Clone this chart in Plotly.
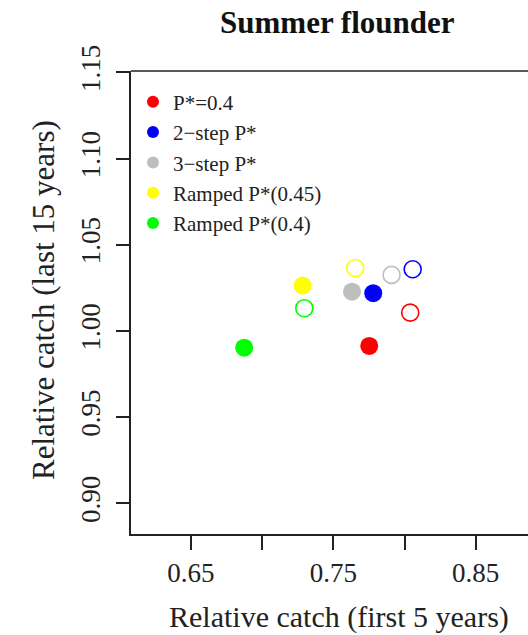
import plotly.graph_objects as go

# Data
scenarios = ["P*=0.4", "2\u2212step P*", "3\u2212step P*", "Ramped P*(0.45)", "Ramped P*(0.4)"]
colors = ["#ff0000", "#0000ff", "#bebebe", "#ffff00", "#00ff00"]
# filled circles
first5_filled = [0.7752, 0.7780, 0.7631, 0.7284, 0.6874]
last15_filled = [0.9913, 1.0219, 1.0228, 1.0263, 0.9903]
# open circles
first5_open = [0.8040, 0.8057, 0.7909, 0.7654, 0.7296]
last15_open = [1.0106, 1.0358, 1.0325, 1.0365, 1.0132]

x_ticks = [0.60, 0.65, 0.70, 0.75, 0.80, 0.85]
x_ticklabels = ["", "0.65", "", "0.75", "", "0.85"]
y_ticks = [0.90, 0.95, 1.00, 1.05, 1.10, 1.15]
y_ticklabels = ["0.90", "0.95", "1.00", "1.05", "1.10", "1.15"]

FONT = "Liberation Serif"
INK = "#222222"

fig = go.Figure()
for i, name in enumerate(scenarios):
    fig.add_trace(go.Scatter(
        x=[first5_open[i]], y=[last15_open[i]], mode="markers",
        marker=dict(symbol="circle-open", size=17, color=colors[i], line=dict(width=1.6, color=colors[i])),
        showlegend=False, hoverinfo="skip"))
for i, name in enumerate(scenarios):
    fig.add_trace(go.Scatter(
        x=[first5_filled[i]], y=[last15_filled[i]], mode="markers", name=name,
        marker=dict(symbol="circle", size=18, color=colors[i])))

fig.update_layout(
    width=528, height=635,
    margin=dict(l=131, r=0, t=71, b=101),
    paper_bgcolor="white", plot_bgcolor="white",
    font=dict(family=FONT, color=INK, size=22),
    showlegend=True,
    legend=dict(x=0.005, y=0.977, xanchor="left", yanchor="top",
                bgcolor="rgba(0,0,0,0)", font=dict(size=21, family=FONT, color=INK),
                itemsizing="constant", traceorder="normal", tracegroupgap=0,
                itemwidth=30),
    xaxis=dict(range=[0.6079, 0.8867], tickvals=x_ticks, ticktext=x_ticklabels,
               showgrid=False, zeroline=False, showline=True, linecolor=INK, linewidth=1.5,
               ticks="outside", ticklen=14, tickwidth=1.5, tickcolor=INK,
               tickfont=dict(size=27, family=FONT, color=INK)),
    yaxis=dict(range=[0.8822, 1.1508], tickvals=y_ticks, ticktext=y_ticklabels,
               showgrid=False, zeroline=False, showline=True, linecolor=INK, linewidth=1.5,
               ticks="outside", ticklen=13, tickwidth=1.5, tickcolor=INK, ticklabelstandoff=5,
               tickangle=-90, tickfont=dict(size=27, family=FONT, color=INK)),
    shapes=[dict(type="line", xref="paper", yref="paper", x0=0, x1=1, y0=1, y1=1,
                 line=dict(color=INK, width=1.5))],
    annotations=[
        dict(text="<b>Summer flounder</b>", xref="paper", yref="paper", x=(337 - 131) / 397, y=1,
             yshift=49, xanchor="center", yanchor="middle", showarrow=False,
             font=dict(size=31, family=FONT, color="#111111")),
        dict(text="Relative catch (first 5 years)", xref="paper", yref="paper", x=(339 - 131) / 397, y=0,
             yshift=-83, xanchor="center", yanchor="middle", showarrow=False,
             font=dict(size=30, family=FONT, color=INK)),
        dict(text="Relative catch (last 15 years)", xref="paper", yref="paper", x=0, y=(534 - 300) / 463,
             xshift=-88, xanchor="center", yanchor="middle", textangle=-90, showarrow=False,
             font=dict(size=31, family=FONT, color=INK)),
    ],
)

fig.write_html("out.html", config={"displayModeBar": False},
               post_script="document.body.style.margin='0';")
